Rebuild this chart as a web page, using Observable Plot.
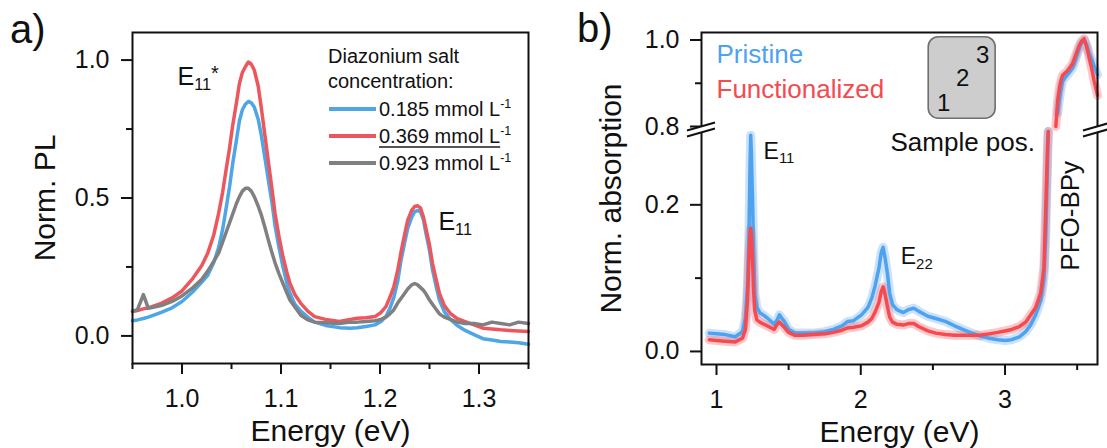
<!DOCTYPE html>
<html><head><meta charset="utf-8">
<script src="https://cdn.jsdelivr.net/npm/d3@7"></script>
<script src="https://cdn.jsdelivr.net/npm/@observablehq/plot@0.6"></script>
<style>
html,body{margin:0;padding:0;background:#fff;}
#fig{position:relative;width:1107px;height:448px;font-family:"Liberation Sans",Arial,sans-serif;color:#111;overflow:hidden;background:#fff;}
.abs{position:absolute;white-space:nowrap;line-height:1;}
</style></head><body><div id="fig"></div>
<script>
// ---------- Panel a: PL spectra ----------
const energyPL = [0.950,0.955,0.961,0.966,0.979,0.990,1.000,1.011,1.020,1.026,1.032,1.037,1.041,1.044,1.048,1.051,1.055,1.058,1.061,1.064,1.067,1.070,1.073,1.077,1.080,1.084,1.087,1.091,1.094,1.098,1.102,1.106,1.109,1.114,1.120,1.127,1.134,1.145,1.159,1.170,1.177,1.186,1.195,1.201,1.206,1.210,1.214,1.218,1.221,1.225,1.228,1.232,1.235,1.238,1.241,1.244,1.246,1.250,1.253,1.257,1.260,1.265,1.271,1.278,1.286,1.295,1.304,1.313,1.322,1.331,1.340,1.350];
const pl0185 = [0.055,0.058,0.063,0.068,0.085,0.102,0.125,0.16,0.195,0.22,0.265,0.32,0.385,0.45,0.54,0.62,0.71,0.78,0.82,0.84,0.85,0.845,0.83,0.785,0.73,0.64,0.57,0.48,0.40,0.32,0.25,0.19,0.155,0.115,0.09,0.068,0.05,0.038,0.03,0.028,0.03,0.034,0.04,0.052,0.07,0.10,0.14,0.20,0.27,0.34,0.39,0.43,0.45,0.455,0.45,0.42,0.38,0.31,0.24,0.175,0.13,0.088,0.06,0.038,0.02,0.005,-0.01,-0.015,-0.02,-0.022,-0.025,-0.03];
const pl0369 = [0.088,0.092,0.098,0.102,0.118,0.138,0.163,0.209,0.255,0.300,0.365,0.444,0.52,0.59,0.68,0.758,0.845,0.915,0.955,0.976,0.993,0.985,0.964,0.905,0.83,0.72,0.638,0.53,0.444,0.36,0.287,0.23,0.191,0.15,0.118,0.09,0.07,0.06,0.052,0.06,0.064,0.066,0.07,0.085,0.106,0.14,0.179,0.24,0.30,0.37,0.42,0.455,0.469,0.472,0.463,0.43,0.396,0.33,0.263,0.20,0.155,0.11,0.082,0.063,0.052,0.04,0.028,0.025,0.022,0.02,0.018,0.016];
const pl0923 = [0.09,0.095,0.15,0.10,0.11,0.125,0.145,0.175,0.205,0.235,0.27,0.30,0.34,0.37,0.41,0.44,0.48,0.505,0.525,0.535,0.535,0.525,0.505,0.47,0.44,0.39,0.35,0.30,0.265,0.225,0.19,0.155,0.13,0.105,0.075,0.058,0.05,0.048,0.045,0.05,0.05,0.052,0.055,0.06,0.068,0.08,0.095,0.12,0.135,0.155,0.17,0.185,0.19,0.185,0.175,0.165,0.155,0.13,0.115,0.095,0.08,0.068,0.06,0.05,0.045,0.045,0.04,0.05,0.045,0.04,0.05,0.045];
const concentrations = ["0.185", "0.369", "0.923"];
const plColors = ["#4da6e6", "#ec575e", "#808080"];
const xTicksA = [1.0, 1.1, 1.2, 1.3];
const xMinorA = [0.95, 1.05, 1.15, 1.25, 1.35];
const yTicksA = [0, 0.5, 1.0];
const yMinorA = [0.25, 0.75];

// ---------- Panel b: absorption spectra ----------
const energyAbs = [0.95,1.00,1.06,1.13,1.18,1.20,1.215,1.225,1.232,1.237,1.242,1.25,1.258,1.266,1.28,1.30,1.35,1.40,1.42,1.436,1.45,1.47,1.50,1.545,1.60,1.666,1.75,1.81,1.87,1.91,1.95,2.005,2.05,2.077,2.10,2.126,2.142,2.155,2.168,2.186,2.20,2.22,2.25,2.295,2.33,2.368,2.40,2.465,2.52,2.586,2.65,2.707,2.77,2.828,2.89,2.95,3.00,3.046,3.10,3.143,3.178,3.213,3.248,3.27,3.283,3.295,3.30,3.352,3.365,3.38,3.398,3.433,3.468,3.49,3.514,3.53,3.548,3.565,3.583,3.60,3.617,3.641];
const absPristine = [0.025,0.024,0.023,0.02,0.027,0.045,0.09,0.16,0.25,0.295,0.27,0.205,0.13,0.078,0.06,0.053,0.046,0.037,0.043,0.05,0.046,0.041,0.03,0.025,0.025,0.025,0.027,0.03,0.035,0.041,0.042,0.05,0.06,0.073,0.09,0.114,0.135,0.142,0.128,0.105,0.08,0.064,0.057,0.053,0.057,0.059,0.055,0.048,0.045,0.041,0.035,0.03,0.025,0.021,0.018,0.016,0.015,0.016,0.02,0.027,0.036,0.05,0.07,0.10,0.16,0.26,0.30,0.78,0.83,0.87,0.905,0.92,0.935,0.955,0.98,0.993,1.0,0.99,0.97,0.955,0.94,0.92];
const absFunctionalized = [0.016,0.015,0.014,0.013,0.018,0.03,0.07,0.13,0.16,0.168,0.16,0.125,0.08,0.055,0.043,0.04,0.035,0.03,0.037,0.04,0.037,0.033,0.026,0.022,0.022,0.023,0.024,0.026,0.029,0.032,0.033,0.035,0.04,0.045,0.054,0.067,0.082,0.088,0.078,0.06,0.047,0.04,0.037,0.036,0.038,0.038,0.034,0.028,0.025,0.023,0.022,0.022,0.022,0.022,0.024,0.026,0.028,0.03,0.034,0.04,0.05,0.06,0.08,0.115,0.2,0.28,0.30,0.80,0.86,0.895,0.918,0.929,0.945,0.965,0.987,0.997,1.003,0.985,0.96,0.935,0.906,0.872];
const sampleNames = ["Pristine", "Functionalized"];
const absColors = ["#4ea2f0", "#f44a50"];
const xTicksB = [1, 2, 3];
const xMinorB = [1.5, 2.5, 3.5];
const yTicksB = [0, 0.2, 0.8, 1.0];
const yMinorB = [0.1, 0.9];
const breakLow = 0.3, breakHigh = 0.8;
const samplePositions = ["1", "2", "3"];

const FONT = "'Liberation Sans', Arial, sans-serif";
const INK = "#111";

// ---------- build panel a ----------
const plRows = [];
energyPL.forEach((e, i) => {
  [pl0185, pl0369, pl0923].forEach((arr, k) => plRows.push({energy: e, pl: arr[i], series: k}));
});
const plOrder = [0, 1, 2];

const plotA = Plot.plot({
  width: 560, height: 448,
  marginLeft: 132, marginRight: 32, marginTop: 32, marginBottom: 85,
  x: {domain: [0.95, 1.35]},
  y: {domain: [-0.1, 1.1]},
  style: {fontFamily: FONT, color: INK, background: "transparent", overflow: "visible"},
  marks: [
    ...plOrder.map(k => Plot.line(plRows.filter(d => d.series === k), {x: "energy", y: "pl", stroke: plColors[k], strokeWidth: 3.5, curve: "linear"})),
    Plot.text([{t: "E_{11}^{*}", x: 0.9955, y: 0.937}], {x: "x", y: "y", text: "t", fontSize: 25, textAnchor: "start", lineAnchor: "middle", fill: INK}),
    Plot.text([{t: "E_{11}", x: 1.259, y: 0.414}], {x: "x", y: "y", text: "t", fontSize: 25, textAnchor: "start", lineAnchor: "middle", fill: INK}),
    Plot.frame({stroke: INK, strokeWidth: 2}),
    Plot.axisX({ticks: xTicksA, tickSize: 11, tickPadding: 15, tickFormat: d3.format(".1f"), fontSize: 25, strokeWidth: 2, label: null}),
    Plot.axisX({ticks: xMinorA, tickSize: 6, tickFormat: () => "", strokeWidth: 2, label: null}),
    Plot.axisX({ticks: [], label: "Energy (eV)", labelArrow: "none", labelAnchor: "center", labelOffset: 77, fontSize: 30}),
    Plot.axisY({ticks: yTicksA, tickSize: 11, tickPadding: 12, tickFormat: d3.format(".1f"), fontSize: 25, strokeWidth: 2, label: null}),
    Plot.axisY({ticks: yMinorA, tickSize: 6, tickFormat: () => "", strokeWidth: 2, label: null}),
    Plot.axisY({ticks: [], label: "Norm. PL", labelArrow: "none", labelAnchor: "center", labelOffset: 99, fontSize: 30})
  ]
});

// ---------- build panel b ----------
const absRows = [];
energyAbs.forEach((e, i) => {
  [absPristine, absFunctionalized].forEach((arr, k) => {
    const v = arr[i];
    const seg = v <= breakLow ? "low" : v >= breakHigh ? "high" : null;
    if (seg) absRows.push({energy: e, abs: v, sample: k, seg});
  });
});

const plotB = Plot.plot({
  width: 547, height: 448,
  marginLeft: 141, marginRight: 10, marginTop: 32, marginBottom: 84,
  x: {domain: [0.896, 3.641]},
  y: {type: "linear", domain: [-0.0178, breakLow, breakHigh, 1.0174], range: [364, 131, 126, 32]},
  style: {fontFamily: FONT, color: INK, background: "transparent", overflow: "visible"},
  marks: [
    Plot.rect([{x1: 2.471, x2: 2.935, y1: 0.818, y2: 1.0065}], {x1: "x1", x2: "x2", y1: "y1", y2: "y2", rx: 10, fill: "#cdcdcd", stroke: "#6e6e6e", strokeWidth: 1.6}),
    Plot.text(samplePositions.map((p, i) => ({p, x: [2.575, 2.707, 2.845][i], y: [0.853, 0.911, 0.964][i]})), {x: "x", y: "y", text: "p", fontSize: 24, lineAnchor: "middle", fill: INK}),
    ...[0, 1].map(k => Plot.line(absRows.filter(d => d.sample === k), {x: "energy", y: "abs", z: "seg", stroke: absColors[k], strokeWidth: 9, strokeOpacity: 0.3})),
    ...[0, 1].map(k => Plot.line(absRows.filter(d => d.sample === k), {x: "energy", y: "abs", z: "seg", stroke: absColors[k], strokeWidth: 3.5})),
    Plot.text(sampleNames.map((n, k) => ({n, k, x: 1.0, y: [0.966, 0.885][k]})), {x: "x", y: "y", text: "n", fill: d => absColors[d.k], fontSize: 26, textAnchor: "start", lineAnchor: "middle"}),
    Plot.text([{t: "Sample pos.", x: 2.707, y: 0.285}], {x: "x", y: "y", text: "t", fontSize: 26, lineAnchor: "middle", fill: INK}),
    Plot.text([{t: "E_{11}", x: 1.326, y: 0.273}], {x: "x", y: "y", text: "t", fontSize: 23, textAnchor: "start", lineAnchor: "middle", fill: INK}),
    Plot.text([{t: "E_{22}", x: 2.277, y: 0.129}], {x: "x", y: "y", text: "t", fontSize: 23, textAnchor: "start", lineAnchor: "middle", fill: INK}),
    Plot.text([{t: "PFO-BPy", x: 3.456, y: 0.185}], {x: "x", y: "y", text: "t", fontSize: 26, rotate: -90, lineAnchor: "middle", fill: INK}),
    Plot.frame({stroke: INK, strokeWidth: 2}),
    Plot.axisX({ticks: xTicksB, tickSize: 11, tickPadding: 15, tickFormat: d3.format("d"), fontSize: 25, strokeWidth: 2, label: null}),
    Plot.axisX({ticks: xMinorB, tickSize: 6, tickFormat: () => "", strokeWidth: 2, label: null}),
    Plot.axisX({ticks: [], label: "Energy (eV)", labelArrow: "none", labelAnchor: "center", labelOffset: 77, fontSize: 30}),
    Plot.axisY({ticks: yTicksB, tickSize: 11, tickPadding: 11, tickFormat: d3.format(".1f"), fontSize: 25, strokeWidth: 2, label: null}),
    Plot.axisY({ticks: yMinorB, tickSize: 6, tickFormat: () => "", strokeWidth: 2, label: null}),
    Plot.axisY({ticks: [], label: "Norm. absorption", labelArrow: "none", labelAnchor: "center", labelOffset: 102, fontSize: 30})
  ]
});

// ---------- assemble ----------
const fig = document.getElementById("fig");
[[plotA, 0], [plotB, 560]].forEach(([p, left]) => {
  p.style.position = "absolute"; p.style.left = left + "px"; p.style.top = "0px";
  p.style.maxWidth = "none";
  fig.appendChild(p);
});

// sub/superscripts in svg text
function richify(svg) {
  svg.querySelectorAll("text").forEach(t => {
    const s = t.textContent;
    if (!/[_^]\{/.test(s)) return;
    const F = parseFloat(getComputedStyle(t).fontSize);
    while (t.firstChild) t.removeChild(t.firstChild);
    let cur = 0; const re = /([_^])\{([^}]*)\}|([^_^]+)/g; let m;
    while ((m = re.exec(s))) {
      const ts = document.createElementNS("http://www.w3.org/2000/svg", "tspan");
      let target = 0, txt = m[3], size = F;
      if (m[3] === undefined) {
        txt = m[2];
        if (m[1] === "_") { target = 0.2 * F; size = 0.65 * F; }
        else { target = -0.23 * F; size = 0.8 * F; }
      }
      ts.setAttribute("dy", (target - cur).toFixed(2)); cur = target;
      ts.setAttribute("font-size", size.toFixed(2));
      ts.textContent = txt;
      t.appendChild(ts);
    }
  });
}
richify(plotA); richify(plotB);

// axis break marks on panel b
{
  const ys = plotB.scale("y"), xs = plotB.scale("x");
  const yS = d3.scaleLinear().domain(ys.domain).range(ys.range);
  const yc = (yS(breakLow) + yS(breakHigh)) / 2 + 1;
  const g = d3.select(plotB).append("g");
  for (const xc of xs.range) {
    g.append("polygon").attr("points", [[xc - 14, yc + 1], [xc + 14, yc - 7], [xc + 14, yc - 1], [xc - 14, yc + 7]].map(p => p.join(",")).join(" ")).attr("fill", "#fff");
    for (const off of [-3, 3]) g.append("line").attr("x1", xc - 14).attr("y1", yc + off + 4).attr("x2", xc + 14).attr("y2", yc + off - 4).attr("stroke", INK).attr("stroke-width", 2);
  }
}

// panel letters and legend (HTML)
function addDiv(html, left, top, css) {
  const d = document.createElement("div");
  d.className = "abs"; d.innerHTML = html;
  d.style.left = left + "px"; d.style.top = top + "px";
  Object.assign(d.style, css || {});
  fig.appendChild(d); return d;
}
addDiv("a)", 10, 9, {fontSize: "40px"});
addDiv("b)", 577, 8, {fontSize: "40px"});
addDiv("Diazonium salt", 328, 46.4, {fontSize: "20px"});
addDiv("concentration:", 328, 71.4, {fontSize: "20px"});
concentrations.forEach((c, i) => {
  const cy = 109.3 + i * 27;
  addDiv("", 329, cy - 2, {width: "47px", height: "4px", background: plColors[i]});
  const label = i === 1 ? `<u style="text-decoration-color:#555;text-decoration-thickness:1.5px;text-underline-offset:3px">${c} mmol L</u>` : `${c} mmol L`;
  addDiv(`${label}<span style="font-size:12.5px;position:relative;top:-8px">-1</span>`, 379, cy + 6.7 - 16.9, {fontSize: "20px"});
});
</script></body></html>
